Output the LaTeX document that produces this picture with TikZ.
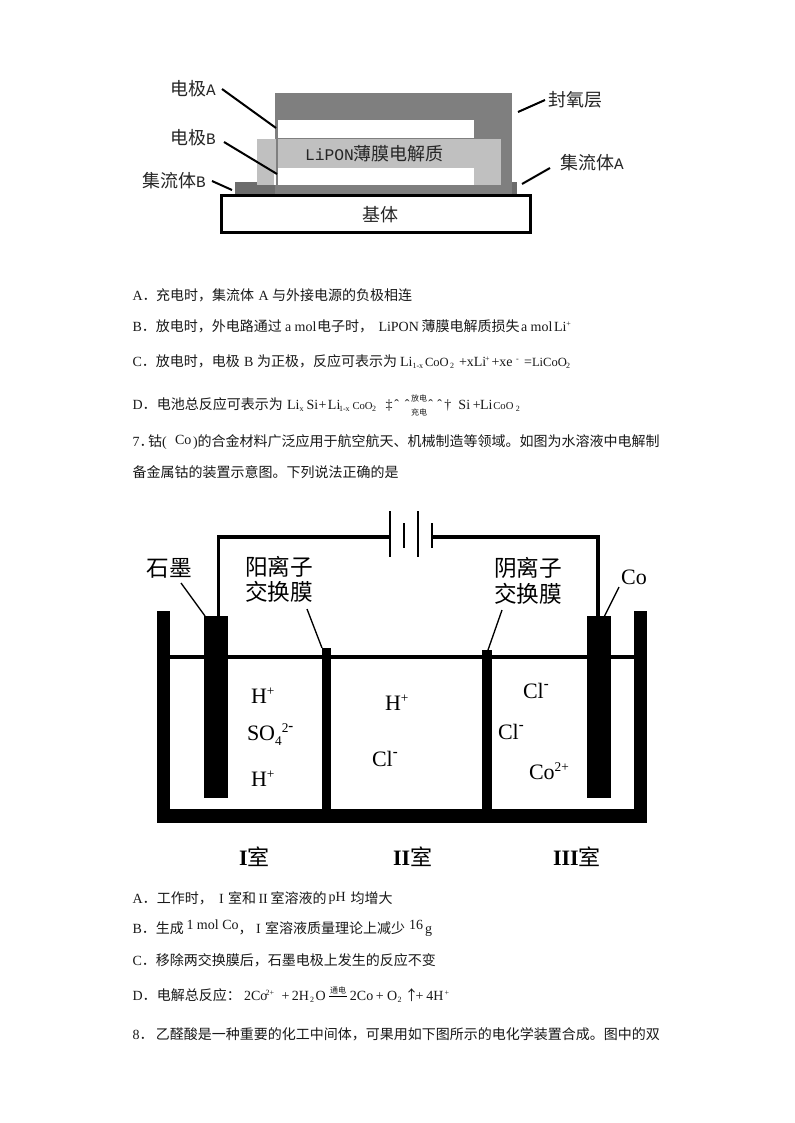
\documentclass[tikz,border=0pt]{standalone}
\usepackage{fontspec}
\setmainfont{Liberation Serif}
\newfontfamily\cjkf{Noto Sans CJK SC}
\newfontfamily\monof{Liberation Mono}
\newlength\pxu \setlength\pxu{0.75pt}
\newcommand\zh[1]{{\cjkf #1}}
\newcommand\sg[2]{\makebox[#1\pxu][l]{#2}}
\newcommand\sbs[1]{\raisebox{-2.2pt}{\fontsize{6}{6}\selectfont #1}}
\newcommand\sps[1]{\raisebox{3.6pt}{\fontsize{6}{6}\selectfont #1}}
\newcommand\smalllat[1]{{\fontsize{8}{10}\selectfont #1}}
\newcommand\midlat[1]{{\fontsize{9.4}{10}\selectfont #1}}
\newcommand\ionsup[1]{\raisebox{6pt}{\fontsize{10}{10}\selectfont #1}}
\newcommand\ionminus{\raisebox{7pt}{\fontsize{11}{10}\selectfont\bfseries -}}
\newcommand\ionsub[1]{\raisebox{-4pt}{\fontsize{10}{10}\selectfont #1}}
\definecolor{seal}{HTML}{7F7F7F}
\definecolor{collector}{HTML}{6C6C6C}
\definecolor{electro}{HTML}{C0C0C0}
\tikzset{
  x=0.75pt,y=-0.75pt,
  bodytxt/.style={anchor=base west,inner sep=0pt,outer sep=0pt,font=\fontsize{10.5}{12}\selectfont,text=black!90},
  tinytxt/.style={anchor=base,inner sep=0pt,outer sep=0pt,font=\cjkf\fontsize{6}{6}\selectfont,text=black!90},
  lab/.style={anchor=base west,inner sep=0pt,outer sep=0pt,font=\cjkf\fontsize{13.5}{15}\selectfont,text=black!85},
  biglab/.style={anchor=center,inner sep=0pt,outer sep=0pt,font=\cjkf\fontsize{17}{18}\selectfont},
  ion/.style={anchor=base west,inner sep=0pt,outer sep=0pt,font=\fontsize{16.5}{18}\selectfont},
  leadA/.style={draw=black,line width=1.5pt},
  leadB/.style={draw=black,line width=1pt},
  wire/.style={draw=black,line width=2.6pt,line join=miter},
  plate/.style={draw=black,line width=1.5pt},
  solid black/.style={fill=black,draw=none}
}
\begin{document}
\begin{tikzpicture}
\useasboundingbox[fill=white] (0,0) rectangle (794,1123);
% ---------- thin-film cell ----------
\fill[collector] (235,182) rectangle (517,195);
\fill[seal] (275,93) rectangle (512,195);
\fill[electro] (257,139) rectangle (501,185);
\fill[white] (278,120) rectangle (473.5,138);
\fill[white] (278,168) rectangle (474,185);
\fill[seal] (275.5,120) rectangle (278,195);
\fill[white] (273.5,172) rectangle (275.5,185);
\draw[draw=black,line width=1.6pt,fill=white] (221.5,195.5) rectangle (530.5,232.5);
\coordinate (endA) at (276,128);
\coordinate (endB) at (277,174);
\coordinate (endCB) at (232,190);
\coordinate (endSeal) at (518,112);
\coordinate (endCA) at (522,184);
\node[lab] (lblA) at (170,96) {电极{\monof\fontsize{12}{14}\selectfont A}};
\node[lab] (lblB) at (170,145) {电极{\monof\fontsize{12}{14}\selectfont B}};
\node[lab] (lblCB) at (142,188) {集流体{\monof\fontsize{12}{14}\selectfont B}};
\node[lab] (lblSeal) at (548,107) {封氧层};
\node[lab] (lblCA) at (560,170) {集流体{\monof\fontsize{12}{14}\selectfont A}};
\node[lab] (lipon) at (305,161) {{\monof\fontsize{12.2}{14}\selectfont LiPON}薄膜电解质};
\node[lab] (base) at (362,222) {基体};
\draw[leadA] (222,89) -- (endA);
\draw[leadA] (224,142) -- (endB);
\draw[leadA] (212,181) -- (endCB);
\draw[leadA] (545,100) -- (endSeal);
\draw[leadA] (550,168) -- (endCA);
% ---------- option lines, question 6 ----------
\node[bodytxt] (a6) at (132.5,300) {\sg{23.5}{A\zh{．}}\sg{102.5}{\zh{充电时，集流体}}\sg{13.5}{A}\zh{与外接电源的负极相连}};
\node[bodytxt] (b6) at (132.5,331) {\sg{23.5}{B\zh{．}}\sg{129}{\zh{放电时，外电路通过}}\sg{32}{a mol}\sg{61.5}{\zh{电子时，}}\sg{43}{LiPON}\sg{99.5}{\zh{薄膜电解质损失}}\sg{33}{a mol}Li\sps{+}};
\node[bodytxt] (c6) at (132.5,366) {\sg{23.5}{C\zh{．}}\sg{88}{\zh{放电时，电极}}\sg{13}{B}\sg{143}{\zh{为正极，反应可表示为}}\sg{12.5}{Li}\sg{12.5}{\sbs{1-x}}\sg{25}{\midlat{CoO}}\sg{9}{\sbs{2}}\sg{26}{+xLi}\sg{6.5}{\sps{+}}\sg{24.5}{+xe}\sg{8}{\sps{-}}\sg{8}{=}\sg{34}{\midlat{LiCoO}}\sbs{2}};
\node[bodytxt] (d6) at (132.5,409) {\sg{24.5}{D\zh{．}}\sg{130}{\zh{电池总反应可表示为}}\sg{12.5}{Li}\sg{7}{\sbs{x}}\sg{12}{Si}\sg{9.5}{+}\sg{11}{Li}\sg{13.5}{\sbs{1-x}}\sg{19.5}{\smalllat{CoO}}\sg{13.5}{\sbs{2}}\sg{9}{‡}\sg{10.5}{ˆ}\sg{23.5}{ˆ}\sg{9}{ˆ}\sg{7}{ˆ}\sg{14}{†}\sg{14.5}{Si}\sg{7}{+}\sg{13.3}{Li}\sg{22.5}{\smalllat{CoO}}\sbs{2}};
\node[tinytxt] (fang) at (419,401) {放电};
\node[tinytxt] (chong) at (419,415) {充电};
\node[bodytxt] (q7a) at (132.5,446) {\sg{15.5}{7\zh{．}}\sg{14}{\zh{钴}}\sg{13}{(}\sg{18}{\raisebox{1pt}{Co}}\sg{4.5}{)}\zh{的合金材料广泛应用于航空航天、机械制造等领域。如图为水溶液中电解制}};
\node[bodytxt] (q7b) at (132.5,477) {\zh{备金属钴的装置示意图。下列说法正确的是}};
% ---------- electrolysis cell ----------
\fill[black] (170,655) rectangle (634,659);
\fill[solid black] (157,611) rectangle (170,823);
\fill[solid black] (634,611) rectangle (647,823);
\fill[solid black] (157,809) rectangle (647,823);
\fill[solid black] (204,616) rectangle (228,798);
\fill[solid black] (587,616) rectangle (611,798);
\fill[solid black] (322,648) rectangle (331,809);
\fill[solid black] (482,650) rectangle (492,809);
\coordinate (wireL) at (218.5,616);
\coordinate (wireR) at (598,616);
\coordinate (plateA) at (390,537);
\coordinate (plateD) at (432,537);
\draw[wire] (wireL) |- (plateA);
\draw[wire] (wireR) |- (plateD);
\draw[plate] (390,511) -- (plateA) -- (390,557);
\draw[plate] (404,523) -- (404,548);
\draw[plate] (418,511) -- (418,557);
\draw[plate] (432,523) -- (plateD) -- (432,548);
\node[biglab] (graphite) at (169,568) {石墨};
\node[biglab] (cat1) at (279,567) {阳离子};
\node[biglab] (cat2) at (279,592) {交换膜};
\node[biglab] (an1) at (528,568) {阴离子};
\node[biglab] (an2) at (528,594) {交换膜};
\node[ion,anchor=center] (colab) at (634,577) {Co};
\coordinate (memL) at (322,648);
\coordinate (memR) at (488,650);
\coordinate (eL) at (205,616);
\coordinate (eR) at (604,617);
\draw[leadB] (181,583) -- (eL);
\draw[leadB] (619,587) -- (eR);
\draw[leadB] (307,609) -- (memL);
\draw[leadB] (502,610) -- (memR);
\node[ion] (h1) at (251,703) {H\ionsup{+}};
\node[ion] (so4) at (247,740) {SO\ionsub{4}\ionsup{2}\ionminus};
\node[ion] (h2) at (251,786) {H\ionsup{+}};
\node[ion] (h3) at (385,710) {H\ionsup{+}};
\node[ion] (cl1) at (372,766) {Cl\ionminus};
\node[ion] (cl2) at (523,698) {Cl\ionminus};
\node[ion] (cl3) at (498,739) {Cl\ionminus};
\node[ion] (co2) at (529,779) {Co\ionsup{2+}};
\node[ion] (r1) at (239,865) {\textbf{I}\zh{室}};
\node[ion] (r2) at (393,865) {\textbf{II}\zh{室}};
\node[ion] (r3) at (553,865) {\textbf{III}\zh{室}};
% ---------- option lines, question 7 ----------
\node[bodytxt] (a7) at (132.5,903) {\sg{24.5}{A\zh{．}}\sg{62}{\zh{工作时，}}\sg{9}{I}\sg{30.5}{\zh{室和}}\sg{12}{II}\sg{58}{\zh{室溶液的}}\sg{22}{\raisebox{1.5pt}{pH}}\zh{均增大}};
\node[bodytxt] (b7) at (132.5,933) {\sg{23.5}{B\zh{．}}\sg{30.5}{\zh{生成}}\sg{52}{\raisebox{3pt}{1 mol Co}}\sg{17.5}{\zh{，}}\sg{9}{I}\sg{144}{\zh{室溶液质量理论上减少}}\sg{16}{\raisebox{3pt}{16}}g};
\node[bodytxt] (c7) at (132.5,965) {\sg{23.5}{C\zh{．}}\zh{移除两交换膜后，石墨电极上发生的反应不变}};
\node[bodytxt] (d7) at (132.5,1000) {\sg{24.5}{D\zh{．}}\sg{87}{\zh{电解总反应：}}\sg{21.5}{2Co}\sg{16}{\sps{2+}}\sg{10.5}{+}\sg{18}{2H}\sg{5.5}{\sbs{2}}\sg{34.5}{O}\sg{26}{2Co}\sg{11}{+}\sg{10.5}{O}\sg{7}{\sbs{2}}\sg{11}{\zh{↑}}\sg{11}{+}\sg{18}{4H}\sps{+}};
\node[tinytxt] (tong) at (338,993) {通电};
\coordinate (overL) at (329,996);
\coordinate (overR) at (347,996);
\draw[draw=black,line width=0.7pt] (overL) -- (overR);
\node[bodytxt] (q8) at (132.5,1039) {\sg{23.5}{8\zh{．}}\zh{乙醛酸是一种重要的化工中间体，可果用如下图所示的电化学装置合成。图中的双}};
\end{tikzpicture}
\end{document}
